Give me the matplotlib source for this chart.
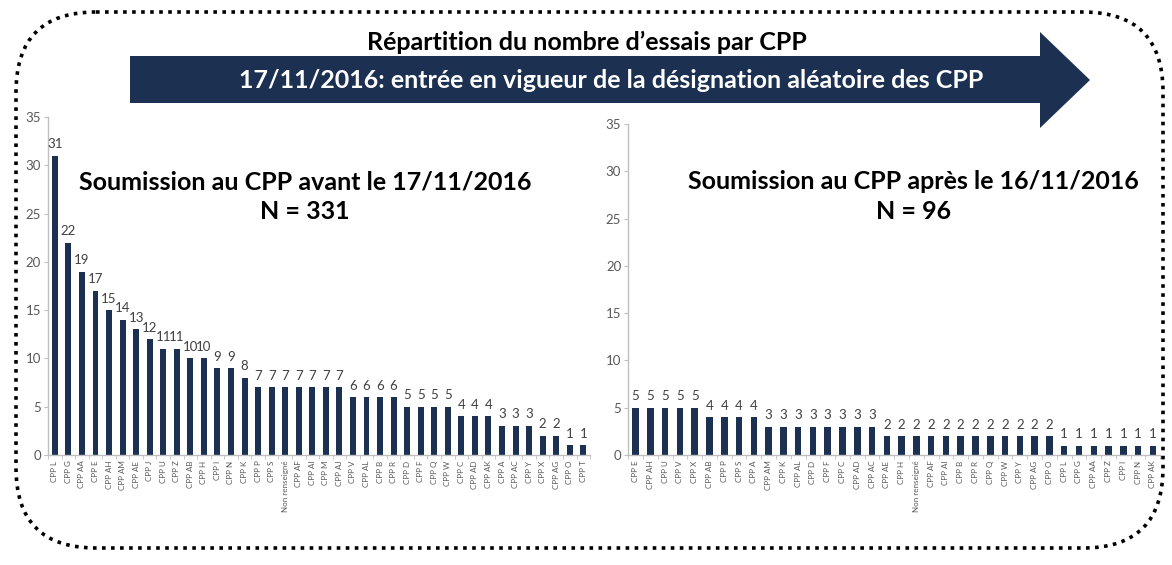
#!/usr/bin/env python3
"""Replot: Répartition du nombre d'essais par CPP (avant / après le 17/11/2016)."""

import matplotlib
import matplotlib.pyplot as plt
import numpy as np
from matplotlib.patches import FancyBboxPatch, Polygon

matplotlib.use("Agg")

FONT = ["Lato", "DejaVu Sans"]
plt.rcParams["font.family"] = FONT

NAVY = "#1c3152"
GREY = "#595959"

TITLE = "Répartition du nombre d’essais par CPP"
ARROW_TEXT = "17/11/2016: entrée en vigueur de la désignation aléatoire des CPP"

# Left panel: submissions before 17/11/2016
before_labels = [
    "CPP L", "CPP G", "CPP AA", "CPP E", "CPP AH", "CPP AM", "CPP AE", "CPP J",
    "CPP U", "CPP Z", "CPP AB", "CPP H", "CPP I", "CPP N", "CPP K", "CPP P",
    "CPP S", "Non renseigné", "CPP AF", "CPP AI", "CPP M", "CPP AJ", "CPP V",
    "CPP AL", "CPP B", "CPP R", "CPP D", "CPP F", "CPP Q", "CPP W", "CPP C",
    "CPP AD", "CPP AK", "CPP A", "CPP AC", "CPP Y", "CPP X", "CPP AG", "CPP O",
    "CPP T",
]
before_values = [
    31, 22, 19, 17, 15, 14, 13, 12, 11, 11, 10, 10, 9, 9, 8, 7, 7, 7, 7, 7,
    7, 7, 6, 6, 6, 6, 5, 5, 5, 5, 4, 4, 4, 3, 3, 3, 2, 2, 1, 1,
]
before_title = "Soumission au CPP avant le 17/11/2016\nN = 331"

# Right panel: submissions after 16/11/2016
after_labels = [
    "CPP E", "CPP AH", "CPP U", "CPP V", "CPP X", "CPP AB", "CPP P", "CPP S",
    "CPP A", "CPP AM", "CPP K", "CPP AL", "CPP D", "CPP F", "CPP C", "CPP AD",
    "CPP AC", "CPP AE", "CPP H", "Non renseigné", "CPP AF", "CPP AI", "CPP B",
    "CPP R", "CPP Q", "CPP W", "CPP Y", "CPP AG", "CPP O", "CPP L", "CPP G",
    "CPP AA", "CPP Z", "CPP I", "CPP N", "CPP AK",
]
after_values = [
    5, 5, 5, 5, 5, 4, 4, 4, 4, 3, 3, 3, 3, 3, 3, 3, 3, 2, 2, 2, 2, 2, 2, 2,
    2, 2, 2, 2, 2, 1, 1, 1, 1, 1, 1, 1,
]
after_title = "Soumission au CPP après le 16/11/2016\nN = 96"

Y_TICKS = [0, 5, 10, 15, 20, 25, 30, 35]


def draw_panel(ax, labels, values, title, title_xy):
    x = np.arange(len(values))
    bars = ax.bar(x, values, width=0.44, color=NAVY, zorder=2)
    ax.bar_label(bars, labels=[str(v) for v in values], padding=4,
                 fontsize=9.5, color="#404040")
    ax.set_xlim(-0.5, len(values) - 0.5)
    ax.set_ylim(0, 35)
    ax.set_yticks(Y_TICKS)
    ax.set_xticks(x)
    ax.set_xticklabels(labels, rotation=90, fontsize=5.8, color=GREY)
    ax.set_xticks(np.arange(len(values) + 1) - 0.5, minor=True)
    ax.tick_params(axis="x", which="major", length=0, pad=4)
    ax.tick_params(axis="x", which="minor", length=3, color="#bfbfbf")
    ax.tick_params(axis="y", labelsize=9.5, labelcolor=GREY, length=3,
                   color="#bfbfbf", pad=2)
    for side in ("top", "right"):
        ax.spines[side].set_visible(False)
    for side in ("left", "bottom"):
        ax.spines[side].set_color("#bfbfbf")
        ax.spines[side].set_linewidth(1.0)
    ax.set_facecolor("none")
    ax.text(title_xy[0], title_xy[1], title, transform=ax.transAxes,
            ha="center", va="center", fontsize=18, fontweight="bold",
            color="black", linespacing=1.35)


def main():
    fig = plt.figure(figsize=(11.72, 5.65), dpi=100)

    # Overlay in pixel units for the frame and the arrow banner
    bg = fig.add_axes([0, 0, 1, 1])
    bg.set_xlim(0, 1172)
    bg.set_ylim(565, 0)
    bg.axis("off")
    frame = FancyBboxPatch((16, 12), 1147, 536,
                           boxstyle="round,pad=0,rounding_size=80",
                           fill=False, ec="black", lw=2.6, ls=(0, (1, 1.5)))
    bg.add_patch(frame)
    arrow = Polygon([(130, 56), (1040, 56), (1040, 32), (1090, 80),
                     (1040, 128), (1040, 103), (130, 103)],
                    closed=True, fc=NAVY, ec="none")
    bg.add_patch(arrow)
    bg.text(587, 42, TITLE, ha="center", va="center", fontsize=18,
            fontweight="bold", color="black")
    bg.text(611, 80, ARROW_TEXT, ha="center", va="center", fontsize=18,
            fontweight="bold", color="white")

    ax1 = fig.add_axes([0.041, 0.1947, 0.4625, 0.598])
    draw_panel(ax1, before_labels, before_values, before_title, (0.474, 0.765))

    ax2 = fig.add_axes([0.536, 0.1947, 0.454, 0.586])
    draw_panel(ax2, after_labels, after_values, after_title, (0.536, 0.78))

    fig.savefig("out.png", dpi=100)
    plt.close(fig)


if __name__ == "__main__":
    main()
